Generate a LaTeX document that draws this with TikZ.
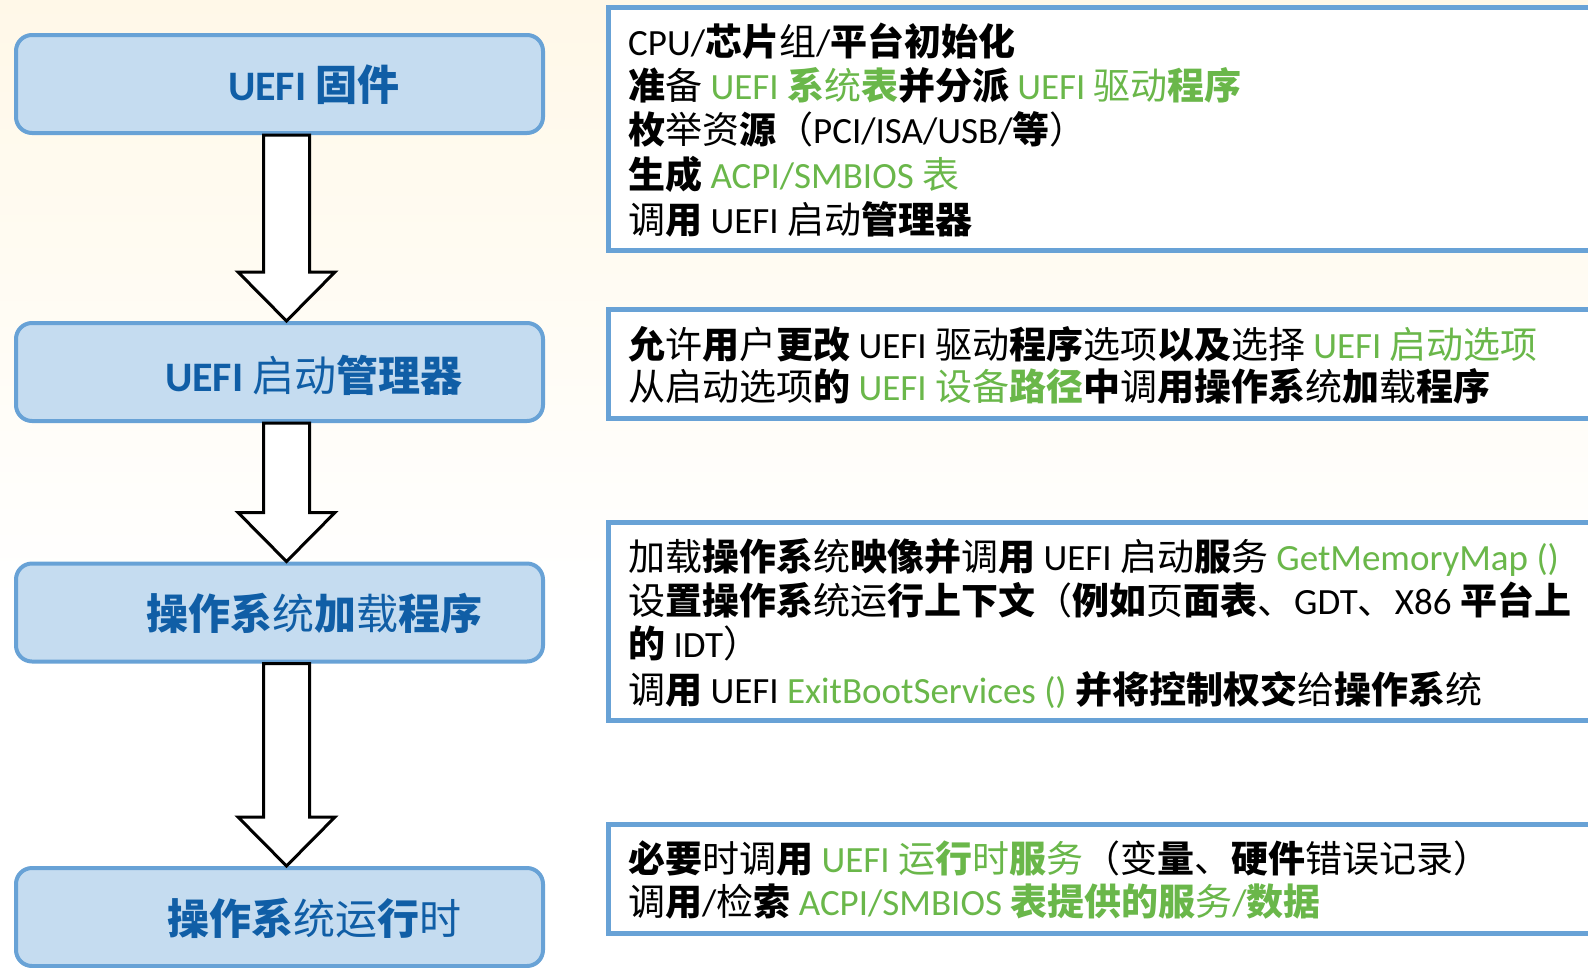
\documentclass[tikz,border=0pt]{standalone}
\usepackage{fontspec}
\setmainfont{Carlito}
\newfontfamily\cjk{Noto Sans CJK SC}
\usetikzlibrary{calc}
\definecolor{bgcream}{RGB}{255,248,232}
\definecolor{boxfill}{RGB}{197,220,240}
\definecolor{boxline}{RGB}{104,162,214}
\definecolor{titleblue}{RGB}{16,94,166}
\definecolor{uegreen}{RGB}{106,183,74}
\newcommand\zr[1]{{\cjk\mdseries #1}}
\newcommand\zb[1]{{\cjk\bfseries #1}}
\newcommand\gr[1]{\textcolor{uegreen}{#1}}
\begin{document}
\begin{tikzpicture}[x=1pt,y=-1pt,
  stagebox/.style={draw=boxline, line width=4pt, fill=boxfill, rounded corners=16pt,
    minimum width=527pt, minimum height=98pt, inner sep=0pt},
  stagetitle/.style={text=titleblue, font=\fontsize{42}{50}\selectfont\bfseries,
    anchor=base, inner sep=0pt},
  descbox/.style={draw=boxline, line width=5pt, fill=white, anchor=north west,
    minimum width=1000pt, inner sep=0pt},
  descline/.style={anchor=base west, inner sep=0pt, text=black,
    font=\fontsize{37}{44}\selectfont},
  fatarrow/.style={draw=black, line width=3pt, fill=white, line join=miter}
]
\useasboundingbox (0,0) rectangle (1588,967);
\clip (0,0) rectangle (1588,967);
\fill[white] (0,0) rectangle (1588,967);
\fill[top color=bgcream, bottom color=white] (0,0) rectangle (1588,600);

% left stage boxes
\node[stagebox] (b1) at (279.5,84) {};
\node[stagebox] (b2) at (279.5,372) {};
\node[stagebox] (b3) at (279.5,612.5) {};
\node[stagebox] (b4) at (279.5,917) {};

\node[stagetitle] (t1) at ($(b1.center)+(34.5,16)$) {UEFI \zb{固件}};
\node[stagetitle] (t2) at ($(b2.center)+(34.5,19)$) {UEFI \zr{启动}\zb{管理器}};
\node[stagetitle] (t3) at ($(b3.center)+(34.5,17)$) {\zb{操作系}\zr{统}\zb{加}\zr{载}\zb{程序}};
\node[stagetitle] (t4) at ($(b4.center)+(34.5,17)$) {\zb{操作系}\zr{统运}\zb{行}\zr{时}};

% arrows
\foreach \a/\b in {b1/b2, b2/b3, b3/b4}{
  \draw[fatarrow] let \p1=($(\a.south)+(7,0)$), \p2=($(\b.north)+(7,0)$) in
    (\x1-23pt,\y1) -- (\x1+23pt,\y1) -- (\x1+23pt,\y2+49pt) -- (\x1+48.5pt,\y2+49pt)
    -- (\x2,\y2) -- (\x1-48.5pt,\y2+49pt) -- (\x1-23pt,\y2+49pt) -- cycle;
}

% right description boxes
\node[descbox, minimum height=243pt] (dA) at (606,5) {};
\node[descbox, minimum height=109pt] (dB) at (606,307) {};
\node[descbox, minimum height=198pt] (dC) at (606,520) {};
\node[descbox, minimum height=109pt] (dD) at (606,822) {};

% box A text
\node[descline] (a1) at (628,55) {CPU/\zb{芯片}\zr{组}/\zb{平台初始化}};
\node[descline] (a2) at (628,99) {\zb{准}\zr{备} \gr{UEFI \zb{系}\zr{统}\zb{表}}\zb{并分派} \gr{UEFI \zr{驱动}\zb{程序}}};
\node[descline] (a3) at (628,143) {\zb{枚}\zr{举资}\zb{源}\zr{（}PCI/ISA/USB/\zb{等}\zr{）}};
\node[descline] (a4) at (628,188) {\zb{生成} \gr{ACPI/SMBIOS \zr{表}}};
\node[descline] (a5) at (628,233) {\zr{调}\zb{用} UEFI \zr{启动}\zb{管理器}};

% box B text
\node[descline] (bl1) at (628,358) {\zb{允}\zr{许}\zb{用}\zr{户}\zb{更改} UEFI \zr{驱动}\zb{程序}\zr{选项}\zb{以及}\zr{选择} \gr{UEFI \zr{启动选项}}};
\node[descline] (bl2) at (628,400) {\zr{从启动选项}\zb{的} \gr{UEFI \zr{设备}\zb{路径}}\zb{中}\zr{调}\zb{用操作系}\zr{统}\zb{加}\zr{载}\zb{程序}};

% box C text
\node[descline] (c1) at (628,570) {\zr{加载}\zb{操作系}\zr{统}\zb{映像并}\zr{调}\zb{用} UEFI \zr{启动}\zb{服}\zr{务} \gr{GetMemoryMap ()}};
\node[descline] (c2) at (628,614) {\zr{设}\zb{置操作系}\zr{统运}\zb{行上下文}\zr{（}\zb{例如}\zr{页}\zb{面表}\zr{、}GDT\zr{、}X86 \zb{平台上}};
\node[descline] (c3) at (628,657) {\zb{的} IDT\zr{）}};
\node[descline] (c4) at (628,703) {\zr{调}\zb{用} UEFI \gr{ExitBootServices ()} \zb{并将控制权交}\zr{给}\zb{操作系}\zr{统}};

% box D text
\node[descline] (d1) at (628,872) {\zb{必要}\zr{时调}\zb{用} \gr{UEFI \zr{运}\zb{行}\zr{时}\zb{服}\zr{务}}\zr{（变}\zb{量}\zr{、}\zb{硬件}\zr{错误记录）}};
\node[descline] (d2) at (628,915) {\zr{调}\zb{用}/\zr{检}\zb{索} \gr{ACPI/SMBIOS \zb{表提供的服}\zr{务}/\zb{数据}}};
\end{tikzpicture}
\end{document}
